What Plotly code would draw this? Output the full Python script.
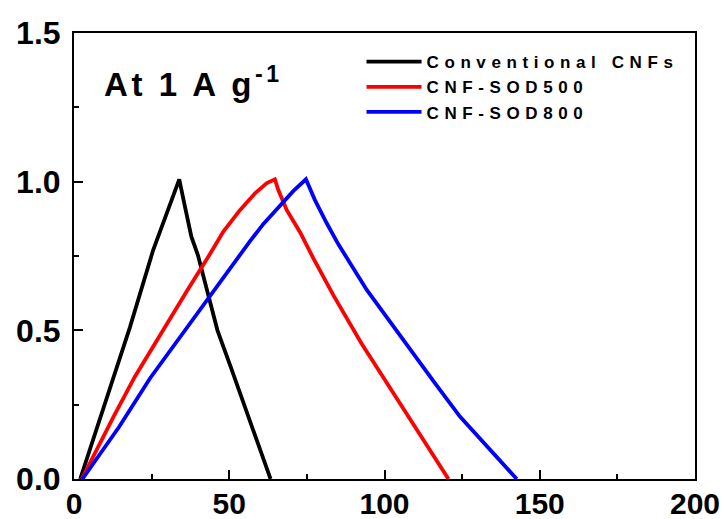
import plotly.graph_objects as go

# ---- data ----
black_x = [2.0, 10.0, 18.0, 25.5, 29.5, 33.9, 35.8, 37.8, 39.9, 43.0, 46.2, 50.5, 54.7, 59.0, 63.3]
black_y = [0.0, 0.25, 0.51, 0.77, 0.885, 1.008, 0.913, 0.815, 0.753, 0.629, 0.50, 0.376, 0.255, 0.127, 0.0]

red_x = [2.5, 8.0, 13.0, 19.6, 28.5, 37.0, 43.3, 48.1, 53.5, 58.3, 62.1, 64.7,
         65.8, 68.5, 72.8, 77.1, 83.7, 92.6, 98.5, 105.0, 112.5, 120.6]
red_y = [0.0, 0.115, 0.215, 0.344, 0.50, 0.643, 0.748, 0.832, 0.905, 0.961, 0.995, 1.008,
         0.972, 0.905, 0.83, 0.742, 0.615, 0.456, 0.36, 0.254, 0.132, 0.0]

blue_x = [2.7, 8.5, 14.5, 24.5, 35.7, 44.0, 49.4, 52.9, 56.7, 61.0, 66.3, 70.6, 74.7,
          76.0, 77.6, 81.4, 85.1, 94.3, 101.0, 108.2, 116.0, 124.3, 133.0, 142.6]
blue_y = [0.0, 0.085, 0.175, 0.339, 0.50, 0.62, 0.70, 0.745, 0.80, 0.858, 0.92, 0.968, 1.008,
          0.975, 0.938, 0.86, 0.79, 0.636, 0.539, 0.434, 0.326, 0.21, 0.11, 0.0]

names = ["Conventional CNFs", "CNF-SOD500", "CNF-SOD800"]
colors = ["#000000", "#ff0000", "#0000ff"]

x_ticks = [0, 50, 100, 150, 200]
y_ticks = [0.0, 0.5, 1.0, 1.5]

FONT = "Liberation Sans, Arial, sans-serif"

fig = go.Figure()
for xs, ys, n, c in zip([black_x, red_x, blue_x], [black_y, red_y, blue_y], names, colors):
    fig.add_trace(go.Scatter(x=xs, y=ys, mode="lines", name=n,
                             line=dict(color=c, width=3.8)))

axis_common = dict(
    showline=True, linewidth=2, linecolor="black", mirror=True,
    ticks="inside", ticklen=9, tickwidth=2, tickcolor="black",
    showgrid=False, zeroline=False, automargin=False,
)

fig.update_xaxes(range=[0, 200], tickvals=x_ticks, ticktext=[str(v) for v in x_ticks],
                 tickfont=dict(family=FONT, size=30, color="black", weight="bold"),
                 ticklabelstandoff=-3,
                 minor=dict(ticks="inside", ticklen=5, tickwidth=2, tickcolor="black", dtick=25, tick0=0),
                 **axis_common)
fig.update_yaxes(range=[0, 1.5], tickvals=y_ticks, ticktext=[f"{v:.1f}" for v in y_ticks],
                 tickfont=dict(family=FONT, size=32, color="black", weight="bold"),
                 ticklabelstandoff=5,
                 minor=dict(ticks="inside", ticklen=5, tickwidth=2, tickcolor="black", dtick=0.25, tick0=0),
                 **axis_common)

fig.add_annotation(text="<b>At 1 A g<sup>-1</sup></b>", xref="paper", yref="paper",
                   x=0.074, y=0.891, xanchor="left", yanchor="middle", showarrow=False,
                   font=dict(family=FONT, size=33, color="black"))

fig.update_layout(
    width=727, height=519,
    margin=dict(l=74, r=32, t=33, b=40),
    paper_bgcolor="white", plot_bgcolor="white",
    showlegend=True,
    legend=dict(x=0.463, y=0.975, xanchor="left", yanchor="top",
                bgcolor="rgba(0,0,0,0)", itemwidth=55,
                font=dict(family=FONT, size=17, color="black", weight="bold")),
)

post = """
document.body.style.margin = '0';
document.body.style.padding = '0';
function _ls(){
  document.querySelectorAll('.legendtext').forEach(function(e){e.style.letterSpacing='5.6px';});
  document.querySelectorAll('.annotation-text').forEach(function(e){e.style.letterSpacing='3.6px';});
  document.querySelectorAll('.legend .scrollbox').forEach(function(e){e.removeAttribute('clip-path');});
}
_ls();
var _gd = document.getElementById('{plot_id}');
if (_gd && _gd.on) { _gd.on('plotly_afterplot', _ls); }
"""
fig.write_html("out.html", post_script=post, config={"displayModeBar": False})
